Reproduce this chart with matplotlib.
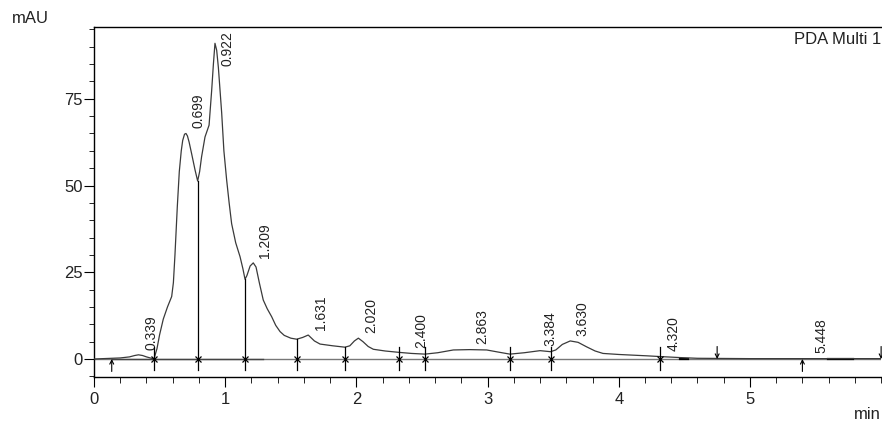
import numpy as np
import matplotlib
matplotlib.use('Agg')
import matplotlib.pyplot as plt
from matplotlib.ticker import MultipleLocator

plt.rcParams['font.family'] = ['Liberation Sans', 'DejaVu Sans']

# chromatogram trace (min, mAU)
time = [0.0, 0.135, 0.20, 0.27, 0.31, 0.339, 0.37, 0.40, 0.457, 0.48, 0.50,
        0.528, 0.56, 0.592, 0.605, 0.617, 0.635, 0.65, 0.665, 0.676, 0.69,
        0.701, 0.712, 0.725, 0.745, 0.77, 0.790, 0.805, 0.82, 0.846, 0.877,
        0.897, 0.91, 0.922, 0.935, 0.948, 0.973, 0.99, 1.011, 1.03, 1.049,
        1.08, 1.113, 1.135, 1.151, 1.165, 1.19, 1.214, 1.235, 1.26, 1.29,
        1.32, 1.354, 1.385, 1.418, 1.45, 1.50, 1.545, 1.59, 1.633, 1.68,
        1.723, 1.82, 1.913, 1.95, 1.985, 2.015, 2.05, 2.09, 2.129, 2.22,
        2.327, 2.42, 2.523, 2.62, 2.739, 2.863, 2.993, 3.08, 3.17, 3.28,
        3.40, 3.48, 3.52, 3.57, 3.63, 3.69, 3.755, 3.82, 3.88, 4.00, 4.11,
        4.22, 4.314, 4.47, 4.60, 5.0, 5.5, 6.0]
signal = [0.0, 0.2, 0.3, 0.6, 1.0, 1.2, 1.0, 0.6, 0.0, 3.0, 7.0,
          11.5, 15.0, 18.0, 22.0, 30.0, 44.0, 54.0, 60.0, 63.0, 64.8,
          65.0, 64.3, 62.5, 59.0, 54.5, 51.3, 54.0, 58.3, 64.0, 67.4,
          77.5, 85.0, 91.0, 89.0, 84.0, 71.0, 60.0, 51.6, 45.0, 39.0,
          33.5, 29.5, 26.0, 23.0, 24.0, 26.8, 27.7, 26.5, 22.0, 17.0,
          14.5, 12.2, 9.7, 7.9, 6.8, 6.0, 5.7, 6.2, 6.9, 5.2,
          4.3, 3.8, 3.4, 3.8, 5.2, 6.0, 5.0, 3.6, 2.8, 2.3,
          1.9, 1.6, 1.4, 1.8, 2.6, 2.7, 2.6, 2.0, 1.4, 1.8,
          2.4, 2.1, 2.6, 4.2, 5.2, 4.8, 3.5, 2.3, 1.6, 1.3, 1.1,
          0.9, 0.7, 0.4, 0.2, 0.1, 0.1, 0.1]

peak_times = [0.339, 0.699, 0.922, 1.209, 1.631, 2.020, 2.400, 2.863,
              3.384, 3.630, 4.320, 5.448]
peak_labels = ['0.339', '0.699', '0.922', '1.209', '1.631', '2.020', '2.400',
               '2.863', '3.384', '3.630', '4.320', '5.448']
cut_times = [0.457, 0.790, 1.151, 1.547, 1.913, 2.325, 2.523, 3.171, 3.483, 4.314]
up_arrows = [0.135, 5.40]
down_arrows = [4.75, 6.0]

fig = plt.figure(figsize=(8.82, 4.23), dpi=100)
ax = fig.add_axes([0.1066, 0.1087, 0.8924, 0.8275])

ax.set_xlim(0, 6)
ax.set_ylim(-5.2, 95.7)

# baseline
ax.axhline(0, color='#777777', lw=1.0, zorder=1)
ax.plot([0.135, 1.29], [0, 0], color='#444444', lw=1.0, zorder=1)
ax.plot([4.47, 4.53], [0, 0], color='black', lw=1.6, zorder=2)
ax.plot([5.595, 5.785], [0, 0], color='black', lw=1.6, zorder=2)

ax.plot(time, signal, color='#3a3a3a', lw=0.9, zorder=3)

# drop lines and cut marks
for c in cut_times:
    top = max(np.interp(c, time, signal), 3.5)
    ax.plot([c, c], [-3.2, top], color='black', lw=0.9, zorder=4)
    ax.plot(c, 0, marker='x', color='black', ms=5, mew=0.9, zorder=5)

for a in up_arrows:
    ax.annotate('', xy=(a, 0), xytext=(a, -3.6),
                arrowprops=dict(arrowstyle='->', color='black', lw=0.8,
                                shrinkA=0, shrinkB=0, mutation_scale=7))
for a in down_arrows:
    ax.annotate('', xy=(a, 0), xytext=(a, 3.6),
                arrowprops=dict(arrowstyle='->', color='black', lw=0.8,
                                shrinkA=0, shrinkB=0, mutation_scale=7),
                annotation_clip=False)

for rt, lab in zip(peak_times, peak_labels):
    y = min(np.interp(rt, time, signal) + 1.5, 84.5)
    ax.annotate(lab, xy=(rt, y), xytext=(4, 0), textcoords='offset points',
                rotation=90, ha='left', va='bottom', fontsize=10, color='#222222')

ax.text(1.0, 0.985, 'PDA Multi 1', transform=ax.transAxes, ha='right', va='top',
        fontsize=12, color='#222222')
fig.text(0.014, 0.945, 'mAU', ha='left', va='baseline', fontsize=12, color='#222222')
fig.text(0.999, 0.01, 'min', ha='right', va='baseline', fontsize=12, color='#222222')

ax.set_xticks([0, 1, 2, 3, 4, 5])
ax.xaxis.set_minor_locator(MultipleLocator(0.2))
ax.set_yticks([0, 25, 50, 75])
ax.yaxis.set_minor_locator(MultipleLocator(5))
ax.tick_params(which='major', direction='out', labelsize=12, colors='black',
               labelcolor='#222222')
ax.tick_params(axis='x', which='major', length=7, pad=3.5)
ax.tick_params(axis='x', which='minor', length=4)
ax.tick_params(axis='y', which='major', length=7, pad=1)
ax.tick_params(axis='y', which='minor', length=3.6)
ax.spines['right'].set_visible(False)
for s in ['left', 'top', 'bottom']:
    ax.spines[s].set_linewidth(1.0)

fig.savefig('out.png', dpi=100)
